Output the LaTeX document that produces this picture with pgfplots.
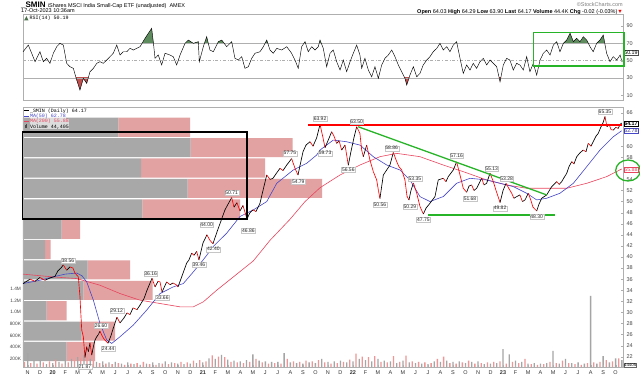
\documentclass[border=0pt]{standalone}
\usepackage{fontspec}
\setmainfont{Liberation Sans}
\setmonofont{Liberation Mono}
\usepackage{pgfplots}
\usepackage{pgfplotstable}
\pgfplotsset{compat=1.18}
\definecolor{vgray}{RGB}{168,168,168}
\definecolor{vpink}{RGB}{226,162,162}
\definecolor{volg}{RGB}{165,165,165}
\definecolor{volp}{RGB}{238,150,150}
\definecolor{ma50}{RGB}{70,70,200}
\definecolor{ma200}{RGB}{232,70,95}
\definecolor{tgreen}{RGB}{40,180,40}
\definecolor{rsigreen}{RGB}{95,140,95}
\definecolor{rsired}{RGB}{190,80,80}
\definecolor{axgray}{RGB}{175,175,175}
\definecolor{txtgray}{RGB}{70,70,70}

\pgfplotstableread{
t p c
-2.37 35.2 0
-1.81 36.0 1
-1.42 35.6 0
-1.02 36.3 1
-0.62 35.8 0
-0.22 36.2 0
0.18 36.5 0
0.42 37.5 0
0.66 38.0 0
0.85 38.56 1
1.12 37.6 0
1.38 38.2 1
1.62 38.0 1
1.78 37.1 1
2.05 36.4 1
2.18 32.8 1
2.32 26.8 1
2.45 25.6 1
2.58 21.87 0
2.72 23.8 1
2.85 22.9 0
2.98 24.5 1
3.12 22.3 0
3.25 23.8 0
3.38 25.0 0
3.52 25.6 0
3.65 26.0 0
3.78 26.6 1
3.94 25.8 1
4.10 25.2 1
4.26 24.8 1
4.42 24.44 0
4.66 25.8 0
4.82 27.0 0
5.14 29.12 1
5.38 28.1 0
5.70 29.0 0
5.94 29.9 1
6.18 29.6 0
6.42 30.8 1
6.74 30.5 0
6.98 31.3 0
7.30 32.5 0
7.54 34.0 0
7.94 36.16 1
8.18 34.6 0
8.42 35.6 1
8.58 35.5 1
8.74 33.66 0
9.11 35.5 1
9.38 35.0 0
9.62 35.3 1
9.86 35.0 1
10.02 34.6 0
10.31 36.4 0
10.71 38.9 0
10.90 39.5 0
11.11 40.7 1
11.30 40.3 0
11.51 41.0 1
11.69 39.46 0
12.01 42.5 0
12.33 44.00 1
12.57 43.0 1
12.81 42.40 0
13.13 44.5 0
13.45 46.5 0
13.77 48.5 0
14.01 49.5 0
14.31 50.71 1
14.49 49.0 0
14.73 49.8 1
14.97 48.3 0
15.21 49.3 1
15.53 46.86 0
15.77 48.0 0
16.01 48.5 1
16.25 48.2 0
16.57 49.7 0
16.81 52.0 0
17.11 54.8 1
17.37 54.0 0
17.61 54.2 0
17.85 55.0 0
18.17 56.0 1
18.41 55.6 0
18.71 56.6 0
19.10 57.75 1
19.37 56.0 1
19.61 54.79 0
19.77 56.5 0
20.01 59.0 0
20.25 60.2 0
20.57 60.8 1
20.81 60.0 0
21.10 61.5 0
21.37 63.92 1
21.61 61.5 1
21.77 59.73 0
22.01 61.0 0
22.30 62.6 1
22.49 61.8 1
22.70 60.5 0
22.89 61.0 1
23.10 59.3 0
23.37 60.2 1
23.63 56.56 0
23.84 59.0 0
24.08 61.5 0
24.30 63.50 1
24.56 62.3 1
24.70 59.3 1
24.83 58.1 0
25.10 60.2 1
25.36 57.5 1
25.63 55.4 1
25.90 53.9 1
26.04 52.0 1
26.16 50.56 0
26.43 54.8 0
26.70 55.7 0
26.96 56.6 0
27.23 58.86 1
27.50 57.2 1
27.68 56.3 1
27.90 55.7 1
28.16 53.9 1
28.32 51.0 1
28.48 50.29 0
28.64 52.0 0
28.84 53.35 1
29.10 51.5 1
29.36 49.1 1
29.63 47.75 0
29.84 48.8 0
30.16 49.7 0
30.56 50.9 0
30.82 53.9 0
31.22 54.2 1
31.44 53.6 0
31.62 54.5 0
32.02 55.7 0
32.29 57.16 1
32.56 54.8 1
32.82 52.4 1
33.09 51.68 0
33.28 52.8 0
33.49 53.0 1
33.68 52.0 0
33.89 52.4 0
34.29 54.2 1
34.48 53.0 0
34.69 53.3 0
34.96 55.13 1
35.22 53.6 1
35.44 52.0 1
35.76 49.82 0
36.00 52.0 0
36.24 53.28 1
36.48 52.3 1
36.69 51.5 1
36.87 50.6 0
37.09 50.9 0
37.35 51.2 1
37.55 50.0 0
37.76 50.3 0
38.02 51.5 1
38.23 50.2 1
38.39 49.0 1
38.69 48.30 0
38.87 49.5 0
39.09 50.6 0
39.49 51.2 0
39.89 52.7 0
40.29 53.6 1
40.49 53.1 0
40.69 53.6 0
40.87 54.3 0
41.09 55.1 0
41.27 56.3 0
41.49 57.2 1
41.67 56.8 0
41.89 58.1 0
42.15 58.8 0
42.41 59.3 1
42.63 59.0 0
42.81 60.5 1
43.03 60.0 0
43.21 60.8 0
43.43 61.8 0
43.61 62.3 0
43.83 63.5 0
43.99 64.2 0
44.15 65.35 1
44.31 63.5 0
44.47 64.0 1
44.63 63.0 1
44.81 62.9 0
45.02 63.4 1
45.21 63.2 0
45.34 63.9 0
45.48 64.17 0
}\pricetab

\pgfplotstableread{
t m
-2.37 35.2
-1.02 35.8
0.02 36.4
0.98 36.9
1.92 37.1
2.34 36.6
2.72 35.5
3.25 32.2
3.78 28.0
4.32 25.0
4.72 24.4
5.38 25.6
6.44 27.7
7.51 30.4
8.58 33.4
9.64 34.6
10.44 35.2
11.24 37.3
12.04 39.5
12.84 41.9
13.91 44.3
14.97 47.3
16.04 48.5
17.11 50.0
17.91 53.3
19.23 55.7
20.30 56.9
21.10 58.4
21.37 59.3
22.43 61.1
23.50 60.8
24.56 60.2
25.63 58.1
26.70 56.6
27.76 55.7
28.56 53.9
29.36 50.9
30.16 50.0
31.22 50.9
32.29 53.3
33.36 54.2
34.69 53.9
35.76 53.3
36.82 52.7
37.89 51.5
38.69 50.3
39.49 50.6
40.55 51.5
41.62 53.3
42.69 56.3
43.75 59.3
44.81 61.7
45.48 62.78
}\matab

\pgfplotstableread{
t m
-2.37 36.9
0.02 36.4
1.92 36.1
3.78 34.9
5.38 33.4
6.98 32.2
8.58 31.6
10.18 31.0
11.24 31.0
12.04 31.9
13.11 34.0
14.44 36.4
16.04 39.3
17.37 43.0
18.97 46.8
20.17 50.0
21.37 52.5
22.97 54.8
24.56 56.6
26.16 58.1
27.50 58.7
29.36 58.1
31.22 56.6
32.82 55.4
34.69 53.9
36.29 53.0
37.89 52.4
39.49 52.4
41.09 52.4
42.69 53.3
44.28 54.5
45.48 55.88
}\mbtab

\pgfplotstableread{
t r
-2.37 60.3
-1.95 68
-1.68 58.5
-1.41 48.8
-1.02 60.3
-0.75 48.8
-0.48 52.7
-0.22 46.9
0.05 58.5
0.32 66.1
0.58 70
0.85 68
1.12 46.9
1.38 43
1.65 41.1
1.92 27.6
2.18 16.1
2.45 29.6
2.72 23.8
2.98 37.2
3.25 41.1
3.52 46.9
3.78 48.8
4.04 46.9
4.32 50.7
4.84 58.5
5.12 68
5.38 56.5
5.64 60.3
5.92 60.3
6.18 64.2
6.44 62.3
6.71 64.2
6.98 66.1
7.38 75.8
7.91 87.3
8.04 71.9
8.18 52.7
8.44 56.5
8.71 45
8.98 58.5
9.38 56.5
9.64 54.6
9.91 45
10.18 56.5
10.58 70
10.84 73.8
11.24 70
11.64 71.9
11.72 48.8
12.04 66.1
12.31 77.7
12.57 62.3
12.84 60.3
13.24 71.9
13.51 73.8
13.91 66.1
14.31 71.9
14.57 52.7
14.84 50.7
15.11 54.6
15.37 41.1
15.64 43
15.91 52.7
16.17 58.5
16.57 60.3
16.84 66.1
17.11 73.8
17.37 62.3
17.63 58.5
17.91 64.2
18.31 62.3
18.71 66.1
19.10 58.5
19.37 50.7
19.63 41.1
19.90 66.1
20.17 71.9
20.43 60.3
20.70 66.1
20.97 62.3
21.23 66.1
21.37 73.8
21.63 64.2
21.90 43
22.17 58.5
22.43 62.3
22.70 48.8
22.97 39.2
23.23 50.7
23.50 37.2
23.77 48.8
24.03 58.5
24.30 68
24.56 56.5
24.70 41.1
24.96 52.7
25.23 39.2
25.50 31.4
25.76 43
26.03 29.6
26.30 45
26.56 52.7
26.83 56.5
27.10 62.3
27.36 54.6
27.63 45
27.90 37.2
28.16 29.6
28.30 21.9
28.56 33.4
28.83 43
29.10 31.4
29.36 35.3
29.62 45
29.90 50.7
30.16 54.6
30.42 60.3
30.70 64.2
30.96 70
31.22 62.3
31.50 66.1
31.76 60.3
32.02 68
32.29 71.9
32.56 52.7
32.82 35.3
33.09 45
33.36 39.2
33.62 46.9
33.89 41.1
34.16 48.8
34.42 52.7
34.69 45
34.96 50.7
35.22 46.9
35.49 43
35.76 25.7
36.02 45
36.29 52.7
36.55 50.7
36.82 39.2
37.09 46.9
37.35 45
37.62 39.2
37.89 54.6
38.15 37.2
38.42 46.9
38.69 33.4
38.96 50.7
39.22 58.5
39.49 62.3
39.76 56.5
40.02 68
40.29 71.9
40.55 60.3
40.82 70
41.09 73.8
41.36 81.6
41.62 71.9
41.89 75.8
42.15 71.9
42.42 77.7
42.69 73.8
42.95 66.1
43.21 60.3
43.48 70
43.75 73.8
44.01 79.6
44.28 58.5
44.55 48.8
44.81 54.6
45.09 50.7
45.36 56.5
45.48 50.19
}\rsitab

\pgfplotstableread{
t v
-2.0 300
-1.5 170
-1.0 180
-0.5 110
0 130
0.5 150
1.0 170
1.5 200
2.0 230
2.5 260
3.0 200
3.5 150
4.0 160
4.5 140
5.0 150
5.5 120
6.0 140
6.5 110
7.0 100
7.5 120
8.0 140
8.5 130
9.0 160
9.5 140
10.0 120
10.5 110
11.0 120
11.5 130
12.0 140
12.5 210
13.0 200
13.5 270
14.0 190
14.5 170
15.0 160
15.5 180
16.0 280
16.5 170
17.0 160
17.5 150
18.0 150
18.5 300
19.0 140
19.5 130
20.0 120
20.5 140
21.0 130
21.5 200
22.0 150
22.5 160
23.0 170
23.5 140
24.0 160
24.5 200
25.0 180
25.5 160
26.0 200
26.5 170
27.0 160
27.5 130
28.0 170
28.5 140
29.0 130
29.5 120
30.0 110
30.5 160
31.0 150
31.5 170
32.0 150
32.5 160
33.0 130
33.5 150
34.0 160
34.5 110
35.0 120
35.5 130
36.0 370
36.5 280
37.0 170
37.5 150
38.0 120
38.5 130
39.0 120
39.5 130
40.0 337
40.5 120
41.0 200
41.5 130
42.0 140
42.5 120
43.0 1280
43.5 120
44.0 250
44.5 140
45.0 210
45.5 180
}\volgtab

\pgfplotstableread{
t v
-2.25 150
-1.75 130
-1.25 120
-0.75 140
-0.25 160
0.25 190
0.75 120
1.25 140
1.75 180
2.25 210
2.75 240
3.25 170
3.75 130
4.25 120
4.75 110
5.25 130
5.75 100
6.25 120
6.75 130
7.25 150
7.75 110
8.25 100
8.75 120
9.25 110
9.75 130
10.25 150
10.75 140
11.25 170
11.75 180
12.25 160
12.75 260
13.25 240
13.75 230
14.25 150
14.75 140
15.25 130
15.75 150
16.25 200
16.75 140
17.25 120
17.75 130
18.25 120
18.75 200
19.25 160
19.75 150
20.25 170
20.75 160
21.25 180
21.75 140
22.25 120
22.75 130
23.25 150
23.75 190
24.25 290
24.75 240
25.25 230
25.75 250
26.25 150
26.75 140
27.25 250
27.75 150
28.25 256
28.75 160
29.25 150
29.75 140
30.25 130
30.75 200
31.25 240
31.75 130
32.25 120
32.75 140
33.25 170
33.75 120
34.25 130
34.75 140
35.25 150
35.75 160
36.25 120
36.75 150
37.25 130
37.75 200
38.25 110
38.75 100
39.25 110
39.75 150
40.25 130
40.75 170
41.25 130
41.75 110
42.25 100
42.75 130
43.25 140
43.75 150
44.25 180
44.75 160
45.25 210
}\volptab

\pgfplotstableread{
y g p
22.94 43.7 28.3
26.62 58.7 33.3
30.30 23.7 20.0
33.98 60.3 69.4
37.66 64.7 42.3
41.34 22.0 5.7
45.01 38.7 18.3
48.69 119.3 97.7
52.37 164.7 134.3
56.05 118.0 124.0
59.73 167.7 102.0
63.41 95.3 71.7
}\vbptab

\pgfplotsset{
  panel/.style={scale only axis, width=600pt, xmin=-2.374, xmax=45.59,
    axis line style={axgray, line width=0.5pt}, tick style={axgray},
    /pgf/number format/assume math mode=true,
    tick label style={font=\fontsize{5.5}{6}\selectfont, text=txtgray},
    major tick length=2pt},
}
\tikzset{vl/.style={draw=gray!45, fill=white, inner sep=0.7pt, line width=0.3pt,
  font=\fontsize{5}{5}\selectfont, text=black!85}}

\begin{document}
\begin{tikzpicture}[x=1pt,y=1pt]
\useasboundingbox (0,0) rectangle (640,380);
\fill[white] (0,0) rectangle (640,380);

% header
\node[anchor=west, inner sep=0pt] at (21,375) {\fontsize{8}{8}\selectfont\textbf{\_SMIN}\ \fontsize{5.5}{6}\selectfont iShares MSCI India Small-Cap ETF (unadjusted)\ \ AMEX};
\node[anchor=west, inner sep=0pt, font=\fontsize{5.5}{6}\selectfont] at (21,369) {17-Oct-2023 10:36am};
\node[anchor=east, inner sep=0pt, font=\fontsize{5.5}{6}\selectfont, text=gray] at (623,375) {©StockCharts.com};
\node[anchor=east, inner sep=0pt, font=\fontsize{5.5}{6}\selectfont] at (623,368.3) {\textbf{Open} 64.03 \textbf{High} 64.29 \textbf{Low} 63.90 \textbf{Last} 64.17 \textbf{Volume} 44.4K \textbf{Chg} -0.02 (-0.03\%)\textcolor{red}{▼}};

% RSI fills (overbought / oversold areas)
\begin{axis}[at={(23pt,336.65pt)}, anchor=south west, scale only axis, width=600pt, height=29.35pt,
  xmin=-2.374, xmax=45.59, ymin=70, ymax=103.9, hide axis]
\addplot[fill=rsigreen, draw=none] table[x=t,y=r] {\rsitab} -- (axis cs:45.48,-10) -- (axis cs:-2.37,-10) -- cycle;
\end{axis}
\begin{axis}[at={(23pt,280pt)}, anchor=south west, scale only axis, width=600pt, height=22.03pt,
  xmin=-2.374, xmax=45.59, ymin=4.55, ymax=30, hide axis]
\addplot[fill=rsired, draw=none] table[x=t,y=r] {\rsitab} -- (axis cs:45.48,120) -- (axis cs:-2.37,120) -- cycle;
\end{axis}

% RSI panel
\begin{axis}[panel, at={(23pt,280pt)}, anchor=south west, height=86pt,
  ymin=4.55, ymax=103.9, xtick=\empty, ytick={10,30,50,70,90},
  ytick pos=right, yticklabel pos=right]
\addplot[axgray, line width=0.8pt] coordinates {(-2.374,70) (45.59,70)};
\addplot[axgray, line width=0.8pt] coordinates {(-2.374,30) (45.59,30)};
\addplot[axgray, dash dot, line width=0.6pt] coordinates {(-2.374,50) (45.59,50)};
\addplot[black, line width=0.45pt] table[x=t,y=r] {\rsitab};
\end{axis}
\fill[rsigreen!80!black] (24,359.5) -- (26.5,363.8) -- (28.5,359.5) -- cycle;
\node[anchor=west, inner sep=0pt, font=\ttfamily\fontsize{5}{5}\selectfont] at (29.5,361.7) {RSI(14) 50.19};

% volume by price
\begin{axis}[at={(23pt,13pt)}, anchor=south west, scale only axis, width=600pt, height=260pt,
  xmin=0, xmax=600, ymin=20.14, ymax=67.07, xbar stacked, bar width=3.45, hide axis]
\addplot[fill=vgray, draw=none] table[x=g, y=y] {\vbptab};
\addplot[fill=vpink, draw=none] table[x=p, y=y] {\vbptab};
\end{axis}

% volume bars
\begin{axis}[at={(23pt,13pt)}, anchor=south west, scale only axis, width=600pt, height=260pt,
  xmin=-2.374, xmax=45.59, ymin=63, ymax=4508, ybar, bar width=1.3pt, bar shift=0pt,
  axis x line=none, axis y line*=left, axis line style={draw=none},
  ytick={200,400,600,800,1000,1200,1400},
  yticklabels={200K,400K,600K,800K,1.0M,1.2M,1.4M},
  y tick style={draw=none},
  y tick label style={font=\fontsize{4.8}{5}\selectfont, text=txtgray, xshift=1.5pt}]
\addplot[fill=volg, draw=none] table[x=t,y=v] {\volgtab};
\addplot[fill=volp, draw=none] table[x=t,y=v] {\volptab};
\end{axis}

% price panel
\begin{axis}[panel, at={(23pt,13pt)}, anchor=south west, height=260pt,
  ymin=20.14, ymax=67.07, clip mode=individual,
  ytick={22,24,26,28,30,32,34,36,38,40,42,44,46,48,50,52,54,58,60,66},
  ytick pos=right, yticklabel pos=right,
  xtick={-2,...,45}, xtick pos=bottom,
  xticklabels={N,D,\textbf{20},F,M,A,M,J,J,A,S,O,N,D,\textbf{21},F,M,A,M,J,J,A,S,O,N,D,\textbf{22},F,M,A,M,J,J,A,S,O,N,D,\textbf{23},F,M,A,M,J,J,A,S,O},
  x tick label style={text=black!80},
  colormap={updown}{color=(black) color=(red)},
  point meta min=0, point meta max=1]
\addplot[ma200, line width=0.6pt] table[x=t,y=m] {\mbtab};
\addplot[ma50, line width=0.6pt] table[x=t,y=m] {\matab};
\addplot[mesh, shader=flat corner, point meta=explicit, line width=0.65pt] table[x=t,y=p,meta=c] {\pricetab};
\addplot[red, line width=1.4pt] coordinates {(20.43,63.8) (45.5,63.8)};
\addplot[tgreen, line width=1.3pt] coordinates {(24.43,63.5) (39.49,51.2)};
\addplot[tgreen, line width=1.3pt] coordinates {(30.02,47.6) (40.16,47.6)};
\node[vl] at (axis cs:1.22,39.33) {38.56};
\node[vl] at (axis cs:2.58,20.19) {21.87};
\node[vl] at (axis cs:3.86,27.54) {26.60};
\node[vl] at (axis cs:4.44,23.52) {24.44};
\node[vl] at (axis cs:5.12,30.25) {29.12};
\node[vl] at (axis cs:7.83,37.05) {36.16};
\node[vl] at (axis cs:8.76,32.72) {33.66};
\node[vl] at (axis cs:11.69,38.55) {39.46};
\node[vl] at (axis cs:12.84,41.39) {42.40};
\node[vl] at (axis cs:12.31,45.77) {44.00};
\node[vl] at (axis cs:14.31,51.6) {50.71};
\node[vl] at (axis cs:15.64,44.74) {46.86};
\node[vl] at (axis cs:18.97,58.72) {57.75};
\node[vl] at (axis cs:19.63,53.59) {54.79};
\node[vl] at (axis cs:21.37,64.9) {63.92};
\node[vl] at (axis cs:21.77,58.72) {59.73};
\node[vl] at (axis cs:23.63,55.7) {56.56};
\node[vl] at (axis cs:24.30,64.42) {63.50};
\node[vl] at (axis cs:26.16,49.38) {50.56};
\node[vl] at (axis cs:27.10,59.62) {58.86};
\node[vl] at (axis cs:28.96,54.2) {53.35};
\node[vl] at (axis cs:28.56,49.08) {50.29};
\node[vl] at (axis cs:29.63,46.68) {47.75};
\node[vl] at (axis cs:32.29,58.23) {57.16};
\node[vl] at (axis cs:33.36,50.52) {51.68};
\node[vl] at (axis cs:35.09,56.0) {55.13};
\node[vl] at (axis cs:36.29,54.2) {53.28};
\node[vl] at (axis cs:35.76,48.79) {49.82};
\node[vl] at (axis cs:38.69,47.27) {48.30};
\node[vl] at (axis cs:44.15,66.22) {65.35};
\end{axis}

% legend
\draw[black, line width=1pt] (24,269) -- (28.5,269);
\node[anchor=west, inner sep=0.3pt, font=\ttfamily\fontsize{5}{5}\selectfont] at (29.5,269) {\_SMIN (Daily) 64.17};
\draw[ma50, line width=0.8pt] (24,263.7) -- (28.5,263.7);
\node[anchor=west, inner sep=0.3pt, fill=white, fill opacity=0.6, text opacity=1, text=ma50, font=\ttfamily\fontsize{5}{5}\selectfont] at (29.5,263.7) {MA(50) 62.78};
\draw[ma200, line width=0.8pt] (24,258.4) -- (28.5,258.4);
\node[anchor=west, inner sep=0.3pt, fill=white, fill opacity=0.6, text opacity=1, text=ma200, font=\ttfamily\fontsize{5}{5}\selectfont] at (29.5,258.4) {MA(200) 55.88};
\fill[black!70] (24.5,251.5) rectangle (25.5,254.5);
\fill[black!70] (26,251.5) rectangle (27,255.5);
\node[anchor=west, inner sep=0.3pt, fill=white, fill opacity=0.6, text opacity=1, font=\ttfamily\fontsize{5}{5}\selectfont] at (29.5,253.1) {Volume 44,405};

% right value boxes
\node[anchor=west, draw=black, fill=white, inner sep=0.6pt, line width=0.4pt, font=\fontsize{5.3}{5.5}\selectfont\bfseries] at (623.5,256) {64.17};
\node[anchor=west, draw=ma50, fill=white, text=ma50!70!black, inner sep=0.6pt, line width=0.4pt, font=\fontsize{5.3}{5.5}\selectfont] at (623.5,249) {62.78};
\node[anchor=west, draw=ma200, fill=white, text=ma200, inner sep=0.6pt, line width=0.4pt, font=\fontsize{5.3}{5.5}\selectfont] at (623.5,210.7) {55.88};
\node[anchor=west, draw=black!70, fill=white, inner sep=0.6pt, line width=0.4pt, font=\fontsize{5.3}{5.5}\selectfont] at (623.5,327.5) {50.19};
\node[anchor=west, draw=black!60, fill=white, inner sep=0.5pt, line width=0.4pt, font=\fontsize{4.3}{4.5}\selectfont] at (623.5,15) {44405};

% annotations
\draw[black, line width=1.6pt] (22.3,247.7) rectangle (246.7,160.7);
\draw[tgreen, line width=1.3pt] (533.3,347.7) rectangle (624,314);
\draw[tgreen, line width=1.3pt] (628,209.5) ellipse (12.3 and 10.5);
\end{tikzpicture}
\end{document}
